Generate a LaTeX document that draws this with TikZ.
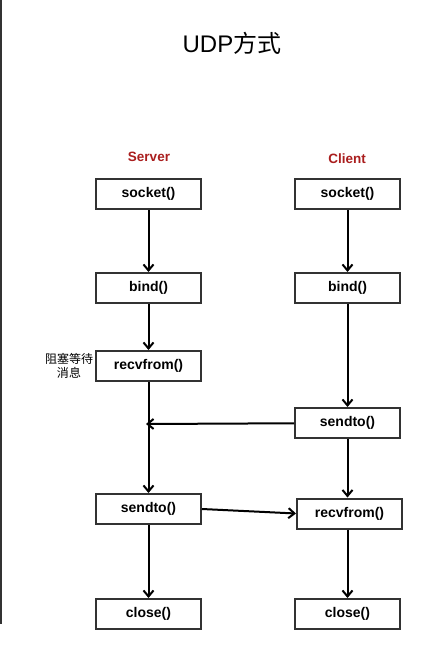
\documentclass[tikz,border=0pt]{standalone}
\usepackage{fontspec}
\setmainfont{Liberation Sans}
\newfontfamily\cjk{Noto Sans CJK SC}
\usetikzlibrary{arrows.meta}

\definecolor{boxline}{RGB}{50,50,50}
\definecolor{rolered}{RGB}{170,30,30}

\begin{document}
\begin{tikzpicture}[x=1pt, y=-1pt,
  callbox/.style={draw=boxline, line width=2pt, fill=white, inner sep=0pt,
    minimum width=105pt, minimum height=30pt, font=\fontsize{14}{16}\selectfont\bfseries},
  role/.style={text=rolered, font=\fontsize{13.5}{15}\selectfont\bfseries},
  flow/.style={line width=2pt, -{Straight Barb[length=6pt, width=10pt, line width=2pt]}}]

\useasboundingbox[fill=white] (0,0) rectangle (421,645);

% left page edge
\draw[boxline, line width=1.5pt] (1,0) -- (1,624);

% Title
\path
(232,43) node (title) {\fontsize{24}{26}\selectfont UDP{\cjk 方式}};

% Server column
\path
(149,157) node[role] (server) {Server};

\path
(148.5,194) node[callbox] (s-socket) {socket()};
\path
(148.5,288) node[callbox] (s-bind) {bind()};
\path
(148.5,366) node[callbox] (s-recv) {recvfrom()};
\path
(148.5,509) node[callbox] (s-send) {sendto()};
\path
(148.5,614) node[callbox] (s-close) {close()};

\path
(69,366) node[align=center, font=\cjk\fontsize{12}{13.5}\selectfont] (block) {阻塞等待\\消息};

% Client column
\path
(347,159) node[role] (client) {Client};

\path
(347.5,194) node[callbox] (c-socket) {socket()};
\path
(347.5,288) node[callbox] (c-bind) {bind()};
\path
(347.5,423) node[callbox] (c-send) {sendto()};
\path
(349.5,513.5) node[callbox] (c-recv) {recvfrom()};
\path
(347.5,614) node[callbox] (c-close) {close()};

\coordinate (meet) at (146,424);

% Server flow
\draw[flow] (s-socket) -- (s-bind);
\draw[flow] (s-bind) -- (s-recv);
\draw[flow] (s-recv) -- (s-send);
\draw[flow] (s-send) -- (s-close);

% Client flow
\draw[flow] (c-socket) -- (c-bind);
\draw[flow] (c-bind) -- (c-send);
\draw[flow] (c-send.south) -- (c-send.south |- c-recv.north);
\draw[flow] (c-recv.south -| c-close) -- (c-close);

% messages
\draw[flow] (c-send) -- (meet);
\draw[flow] (s-send.east) -- (c-recv.west);

\end{tikzpicture}
\end{document}
